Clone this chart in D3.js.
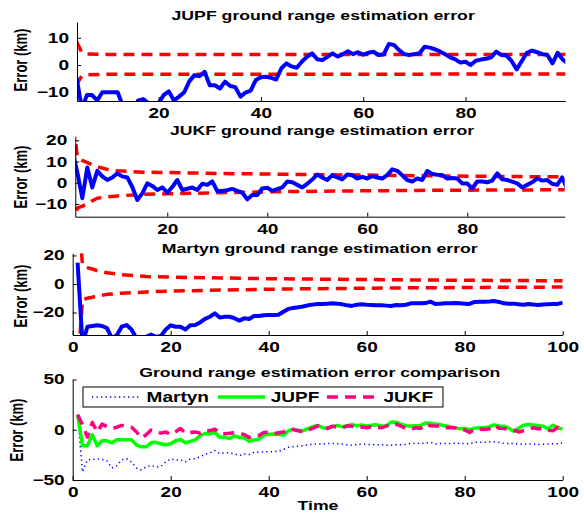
<!DOCTYPE html>
<html>
<head>
<meta charset="utf-8">
<script src="https://cdn.jsdelivr.net/npm/d3@7"></script>
<style>
  body { margin: 0; background: #fff; }
  text { font-family: "Liberation Sans", Arial, Helvetica, sans-serif; font-weight: bold; fill: #000; }
</style>
</head>
<body>
<div id="chart"></div>
<script>
// time steps
var time = d3.range(1, 101);

// estimation errors (km) per time step
var jupfErr = [15, -16, -16, -5, -16, -11, -11, -13, -10, -10,
  -10, -10, -15, -17, -17, -13, -12.5, -14, -15, -14,
  -11, -9.7, -13, -11.6, -10, -6, -3.7, -4.1, -2.5, -7.4,
  -7.4, -8.6, -6.1, -7.7, -8.1, -11.6, -10.1, -9.4, -5.5, -4.5,
  -4.3, -4.7, -5.3, -1.2, 0.6, -0.5, -1, 1.2, 3, 4.3,
  2.1, 1.8, 3, 4.3, 3.1, 4, 5.1, 4, 4.7, 3.8,
  4.5, 4.9, 3.7, 3.9, 7.7, 7.4, 5.5, 4, 3.7, 4,
  4.3, 6.7, 6.4, 5.8, 5, 4, 2.8, 2.1, 0.9, 1.2,
  0, 1.6, 2, 2.3, 2.8, 4.9, 3.7, 3.5, 1.5, -1.6,
  1.5, 4.5, 5.3, 4.7, 4, 3.7, 0.6, 4.5, 2, 0.6];

var jukfErr = [15, 5, -7.3, 7.2, -2.2, 5.6, 3, 1.3, 2.5, 4.4,
  3, 2.5, -2, -8.1, -5, -0.3, -1.5, -3.4, -2.2, -4.7,
  -2, 1.3, -3.4, -2.8, -2.2, -3.4, -0.5, -1, 0.6, -3.9,
  -3.9, -3.5, -2.9, -3.8, -4.7, -7.8, -5.8, -5.8, -2.7, -2.4,
  -3.8, -3, -2.2, 0.6, 0.2, -1, -2.2, -0.5, 1.5, 3.9,
  2.5, 1.3, 3.6, 2.5, 1.6, 3.9, 3.5, 2, 2.8, 2,
  3.1, 2.5, 2, 3.6, 6.3, 5.6, 3.5, 1.3, 0.6, 2,
  1.3, 5.5, 4.1, 3.8, 3.6, 2, 2.2, 2, -0.3, -0.3,
  -2.7, 0.6, 0.6, 0.2, 1, 4.4, 1.6, 1.3, 0.5, -0.3,
  -2.2, -1, 0.2, 2, 1, 1.3, -0.5, -1, 2.5, -3];

var martynErr = [15, -42, -30, -29.5, -29, -29.5, -31, -38, -36, -30,
  -28.8, -32, -38, -40, -37, -35.5, -37, -36.5, -32, -29,
  -30, -30, -32, -29, -28.8, -27, -24.5, -23, -20.6, -23.6,
  -23, -23, -24, -25.7, -24.1, -24.6, -22.5, -22.5, -22, -21.8,
  -21.8, -21.6, -19.5, -17.5, -16.8, -16.4, -15.8, -15, -14.5, -14.1,
  -14, -13.8, -13.6, -13.8, -14.3, -15, -15.4, -14.5, -14.3, -14.6,
  -14.7, -14.9, -15, -15.2, -15.4, -14.8, -15, -14.6, -13.6, -13.6,
  -13.6, -13.4, -12.4, -14.1, -13.8, -13.6, -13.6, -13.4, -13.6, -13.8,
  -14, -12.6, -12.4, -12.4, -12.3, -12, -12.6, -13.6, -13.8, -13.8,
  -14.3, -14.6, -14, -14.4, -14.7, -14.4, -14.2, -14, -14, -13.1];

// confidence bounds (km), read at a few time steps
var jupfBoundT = [3, 4, 5, 6, 10, 20, 40, 60, 80, 100];
var jupfUpper = [15, 8.5, 4.6, 4.1, 3.9, 3.9, 3.9, 3.9, 3.9, 3.9];
var jupfLower = [-14, -7, -4, -3.6, -3.4, -3.4, -3.4, -3.4, -3.3, -3.3];

var jukfBoundT = [1, 2, 3, 4, 5, 6, 8, 10, 15, 20, 30, 40, 50, 60, 70, 80, 90, 100];
var jukfUpper = [35, 12, 10.5, 9.5, 8.5, 7.5, 6.3, 5.6, 5, 4.8, 4.4, 4.1, 3.8, 3.6, 3.3, 3.1, 2.9, 2.8];
var jukfLower = [-30, -12, -11, -10, -8.5, -7.3, -6.6, -6.2, -5.5, -5.2, -4.7, -4.3, -4, -3.8, -3.6, -3.5, -3.4, -3.3];

var martynBoundT = [1, 2, 3, 4, 5, 7, 10, 15, 20, 30, 40, 50, 60, 70, 80, 90, 100];
var martynUpper = [60, 13, 11.5, 10.5, 9.3, 7.8, 6.5, 5.2, 4.8, 4.2, 3.7, 3.4, 3.1, 2.8, 2.6, 2.4, 2.2];
var martynLower = [-60, -11, -10, -9.3, -8.5, -7.3, -6.5, -5.6, -5, -4.3, -3.7, -3.3, -3, -2.7, -2.5, -2.3, -2.2];

// legend
var legendNames = ["Martyn", "JUPF", "JUKF"];

var SX = 1.36; // the figure is stretched sideways

var svg = d3.select("#chart").append("svg")
    .attr("width", 584)
    .attr("height", 514);

var BLUE = "#0000ff", RED = "#ff0000", GREEN = "#00ff00", PINK = "#ff0080";
var DOTS = "1.3,3.2";

function stretchedText(g, x, y, str, size, anchor) {
    return g.append("text")
        .attr("transform", "translate(" + x + "," + y + ") scale(" + SX + ",1)")
        .attr("text-anchor", anchor || "middle")
        .attr("dy", "0.35em")
        .style("font-size", size + "px")
        .text(str);
}

function drawPanel(p, lines, id) {
    var g = svg.append("g");
    var x = d3.scaleLinear().domain(p.xd).range([p.left, p.right]);
    var y = d3.scaleLinear().domain(p.yd).range([p.bottom, p.top]);

    g.append("clipPath").attr("id", "clip" + id)
        .append("rect")
        .attr("x", p.left).attr("y", p.top)
        .attr("width", p.right - p.left).attr("height", p.bottom - p.top);

    var line = d3.line().x(d => x(d[0])).y(d => y(d[1]));
    var plot = g.append("g").attr("clip-path", "url(#clip" + id + ")");
    lines.forEach(function (l) {
        plot.append("path")
            .datum(d3.zip(l.t, l.v))
            .attr("fill", "none")
            .attr("stroke", l.color)
            .attr("stroke-width", l.width)
            .attr("stroke-dasharray", l.dash || null)
            .attr("stroke-linejoin", "round")
            .attr("d", line);
    });

    // axes, ticks pointing inwards
    var xa = g.append("g").attr("transform", "translate(0," + p.bottom + ")")
        .call(d3.axisBottom(x).tickValues(p.xticks).tickSizeInner(-4).tickSizeOuter(0));
    xa.selectAll("text")
        .attr("y", 12).attr("dy", "0.35em")
        .attr("transform", "scale(" + SX + ",1)")
        .style("font-size", "14px");

    var ya = g.append("g").attr("transform", "translate(" + p.left + ",0)")
        .call(d3.axisLeft(y).tickValues(p.yticks).tickSizeInner(-4).tickSizeOuter(0));
    ya.selectAll("text")
        .attr("x", -8 / SX)
        .attr("transform", "scale(" + SX + ",1)")
        .style("font-size", "14px");
    g.selectAll(".domain, .tick line").attr("stroke", "#000");
    xa.attr("font-family", null).attr("font-size", null);
    ya.attr("font-family", null).attr("font-size", null);

    stretchedText(g, p.titleX || (p.left + p.right) / 2 + 2, p.titleY, p.title, 13);

    g.append("text")
        .attr("transform", "translate(" + p.labelX + "," + p.labelY + ") scale(" + SX + ",1) rotate(-90)")
        .attr("text-anchor", "middle")
        .attr("dy", "0.35em")
        .style("font-size", "13px")
        .text("Error (km)");
    return { g: g, x: x, y: y };
}

drawPanel({
    left: 77, right: 565.3, top: 22, bottom: 101,
    xd: [4.05, 99.5], yd: [-13.2, 15.8],
    xticks: [20, 40, 60, 80], yticks: [-10, 0, 10],
    title: "JUPF ground range estimation error", titleY: 15,
    labelX: 21, labelY: 60
}, [
    { t: jupfBoundT, v: jupfUpper, color: RED, width: 3.5, dash: "11,7" },
    { t: jupfBoundT, v: jupfLower, color: RED, width: 3.5, dash: "11,7" },
    { t: time, v: jupfErr, color: BLUE, width: 4 }
], 1);

drawPanel({
    left: 75.3, right: 564.7, top: 136.7, bottom: 216.7,
    xd: [1.6, 99.5], yd: [-16, 21.7],
    xticks: [20, 40, 60, 80], yticks: [-10, 0, 10, 20],
    title: "JUKF ground range estimation error", titleY: 130.7,
    labelX: 21, labelY: 177
}, [
    { t: jukfBoundT, v: jukfUpper, color: RED, width: 3.5, dash: "11,7" },
    { t: jukfBoundT, v: jukfLower, color: RED, width: 3.5, dash: "11,7" },
    { t: time, v: jukfErr, color: BLUE, width: 4 }
], 2);

drawPanel({
    left: 72.7, right: 562.7, top: 253.3, bottom: 335,
    xd: [0, 100], yd: [-35.8, 21.5],
    xticks: [0, 20, 40, 60, 80, 100], yticks: [-20, 0, 20],
    title: "Martyn ground range estimation error", titleY: 248.3,
    labelX: 21, labelY: 296
}, [
    { t: martynBoundT, v: martynUpper, color: RED, width: 3.5, dash: "11,7" },
    { t: martynBoundT, v: martynLower, color: RED, width: 3.5, dash: "11,7" },
    { t: time, v: martynErr, color: BLUE, width: 4 }
], 3);

var p4 = drawPanel({
    left: 72.7, right: 562.7, top: 379.5, bottom: 480,
    xd: [0, 100], yd: [-50, 50],
    xticks: [0, 20, 40, 60, 80, 100], yticks: [-50, 0, 50],
    title: "Ground range estimation error comparison", titleY: 372.3,
    labelX: 17, labelY: 430
}, [
    { t: time, v: martynErr, color: BLUE, width: 1.5, dash: DOTS },
    { t: time, v: jupfErr, color: GREEN, width: 3.5 },
    { t: time, v: jukfErr, color: PINK, width: 3.5, dash: "11,7" }
], 4);

stretchedText(p4.g, 318, 505.5, "Time", 13);

// legend
var leg = p4.g.append("g");
leg.append("rect")
    .attr("x", 83).attr("y", 387).attr("width", 360).attr("height", 20)
    .attr("fill", "#fff").attr("stroke", "#000").attr("stroke-width", 1);
var legendStyle = [
    { x0: 92, x1: 139, tx: 146.6, color: BLUE, width: 1.5, dash: DOTS },
    { x0: 218, x1: 265, tx: 270.7, color: GREEN, width: 3.5 },
    { x0: 327, x1: 376, tx: 383.5, color: PINK, width: 3.5, dash: "11,7" }
];
legendNames.forEach(function (name, i) {
    var s = legendStyle[i];
    leg.append("line")
        .attr("x1", s.x0).attr("x2", s.x1).attr("y1", 397).attr("y2", 397)
        .attr("stroke", s.color).attr("stroke-width", s.width)
        .attr("stroke-dasharray", s.dash || null);
    stretchedText(leg, s.tx, 397, name, 14, "start");
});
</script>
</body>
</html>
